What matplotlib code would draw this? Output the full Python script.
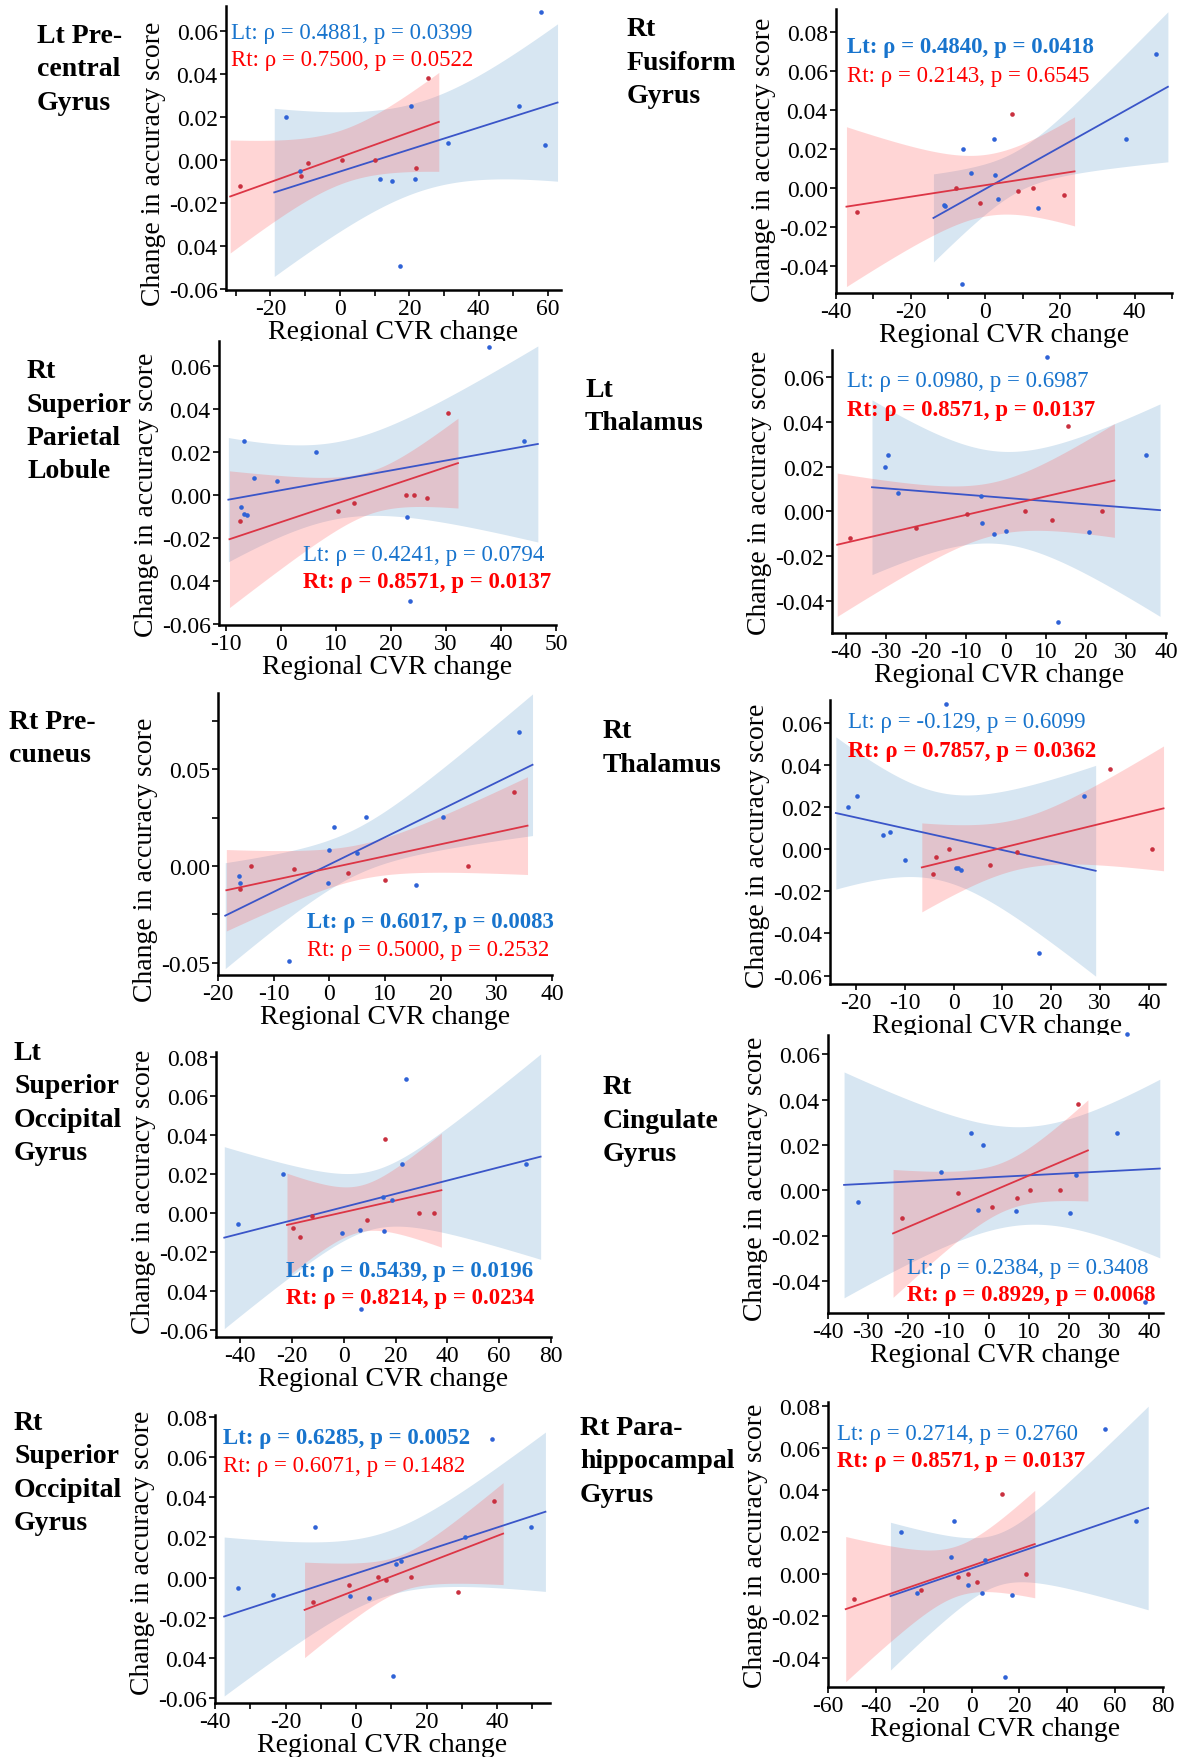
import numpy as np
import matplotlib
matplotlib.use("Agg")
import matplotlib.pyplot as plt

plt.rcParams["font.family"] = ["Liberation Serif", "DejaVu Serif"]
plt.rcParams["axes.unicode_minus"] = False

# change in accuracy score (same subjects in every panel)
lt_acc = [0.069, 0.0253, 0.0251, 0.020, 0.0081, 0.0068, -0.0053, -0.0088, -0.0090, -0.0100, -0.0492]
rt_acc = [-0.0120, -0.0074, -0.0013, 0.0002, 0.0002, -0.0036, 0.0382]

regions = [
    ["Lt Pre-", "central", "Gyrus"],
    ["Rt", "Fusiform", "Gyrus"],
    ["Rt", "Superior", "Parietal", "Lobule"],
    ["Lt", "Thalamus"],
    ["Rt Pre-", "cuneus"],
    ["Rt", "Thalamus"],
    ["Lt", "Superior", "Occipital", "Gyrus"],
    ["Rt", "Cingulate", "Gyrus"],
    ["Rt", "Superior", "Occipital", "Gyrus"],
    ["Rt Para-", "hippocampal", "Gyrus"],
]

# regional CVR change, ordered like lt_acc / rt_acc
lt_cvr_precentral = [57.9, 51.6, 20.5, -15.4, 31.1, 59.0, -11.6, 11.5, 21.5, 14.9, 17.2]
rt_cvr_precentral = [-28.9, -11.3, -9.1, 0.6, 10.0, 21.9, 25.5]
lt_cvr_fusiform = [45.8, 37.6, 2.2, -6.0, -3.8, 2.7, 3.4, -11.2, -10.8, 14.0, -6.3]
rt_cvr_fusiform = [-34.5, -1.3, 8.8, -7.8, 12.9, 21.1, 7.1]
lt_cvr_parietal = [37.8, 44.1, -6.6, 6.4, -4.8, -0.7, -7.2, -6.6, -6.1, 22.9, 23.5]
rt_cvr_parietal = [-7.4, 10.5, 26.5, 22.7, 24.2, 13.4, 30.3]
lt_cvr_lthal = [10.3, 35.1, -29.6, -30.3, -27.1, -6.2, -6.1, 0.0, 20.8, -3.0, 13.0]
rt_cvr_lthal = [-39.1, -22.4, -9.7, 4.7, 24.1, 11.5, 15.5]
lt_cvr_precuneus = [34.0, 6.5, 20.5, 0.9, -0.1, 4.9, -16.3, -16.0, -0.3, 15.6, -7.2]
rt_cvr_precuneus = [-16.1, 10.0, -6.4, -14.0, 24.9, 3.3, 33.2]
lt_cvr_rthal = [-1.5, 26.7, -19.7, -21.6, -13.0, -14.5, -10.0, 0.5, 0.9, 1.5, 17.5]
rt_cvr_rthal = [-4.3, 7.5, 13.0, -1.0, 40.6, -3.5, 32.0]
lt_cvr_ltocc = [24.0, 70.3, 22.4, -23.3, 15.0, 18.7, -40.7, 6.4, 15.7, -0.7, 6.7]
rt_cvr_ltocc = [-16.9, -19.6, -12.4, 29.1, 34.9, 8.9, 16.0]
lt_cvr_cingulate = [34.5, 31.9, -4.4, -1.4, -11.8, 21.8, -32.5, -2.6, 6.8, 20.3, 38.9]
rt_cvr_cingulate = [-21.7, 0.8, -7.6, 10.2, 17.7, 7.1, 22.3]
lt_cvr_rtocc = [38.6, 49.5, -11.7, 31.0, 12.7, 11.4, -33.5, -23.6, -1.6, 3.7, 10.6]
rt_cvr_rtocc = [-12.1, 29.0, 8.6, 6.3, 15.6, -2.1, 39.0]
lt_cvr_parahip = [55.8, 68.6, -7.4, -29.4, -8.8, 5.6, -1.3, -22.7, 4.5, 16.9, 13.8]
rt_cvr_parahip = [-49.0, -21.1, -5.6, -1.3, 22.8, 2.3, 12.9]

lt_cvr = [lt_cvr_precentral, lt_cvr_fusiform, lt_cvr_parietal, lt_cvr_lthal, lt_cvr_precuneus,
          lt_cvr_rthal, lt_cvr_ltocc, lt_cvr_cingulate, lt_cvr_rtocc, lt_cvr_parahip]
rt_cvr = [rt_cvr_precentral, rt_cvr_fusiform, rt_cvr_parietal, rt_cvr_lthal, rt_cvr_precuneus,
          rt_cvr_rthal, rt_cvr_ltocc, rt_cvr_cingulate, rt_cvr_rtocc, rt_cvr_parahip]

# spearman stats as printed
lt_rho = ["0.4881", "0.4840", "0.4241", "0.0980", "0.6017", "-0.129", "0.5439", "0.2384", "0.6285", "0.2714"]
lt_p = ["0.0399", "0.0418", "0.0794", "0.6987", "0.0083", "0.6099", "0.0196", "0.3408", "0.0052", "0.2760"]
rt_rho = ["0.7500", "0.2143", "0.8571", "0.8571", "0.5000", "0.7857", "0.8214", "0.8929", "0.6071", "0.8571"]
rt_p = ["0.0522", "0.6545", "0.0137", "0.0137", "0.2532", "0.0362", "0.0234", "0.0068", "0.1482", "0.0137"]
lt_bold = [False, True, False, False, True, False, True, False, True, False]
rt_bold = [False, False, True, True, False, True, True, True, False, True]

# fitted lines (x0, x1, y0, y1) and CI half widths (x_mid, w_left, w_mid, w_right)
lt_line = [(-18.9, 62.7, -0.0151, 0.0267), (-13.9, 48.9, -0.0152, 0.0521), (-9.5, 46.7, -0.0020, 0.0239),
           (-33.5, 38.5, 0.0108, 0.0006), (-18.7, 36.5, -0.0256, 0.0522), (-24.1, 29.1, 0.0171, -0.0103),
           (-46.1, 76.0, -0.0125, 0.0290), (-36.0, 42.6, 0.0024, 0.0096), (-37.4, 53.7, -0.0194, 0.0328),
           (-33.9, 73.8, -0.0105, 0.0315)]
lt_band = [(20, 0.0391, 0.021, 0.0366), (5, 0.0226, 0.011, 0.0385), (12, 0.0289, 0.018, 0.0456),
           (2, 0.0389, 0.021, 0.0473), (3, 0.0273, 0.012, 0.0365), (-1, 0.0361, 0.021, 0.050),
           (10, 0.0466, 0.015, 0.0526), (5, 0.0498, 0.022, 0.0394), (8, 0.0396, 0.016, 0.0397),
           (5, 0.0352, 0.013, 0.0485)]
rt_line = [(-31.6, 28.5, -0.0170, 0.0177), (-37.2, 23.9, -0.0094, 0.0087), (-9.3, 32.2, -0.0204, 0.0150),
           (-42.2, 27.1, -0.0148, 0.0138), (-18.5, 35.6, -0.0125, 0.0208), (-6.5, 43.0, -0.0087, 0.0193),
           (-21.9, 37.7, -0.0060, 0.0118), (-23.8, 24.7, -0.0190, 0.0176), (-14.6, 41.7, -0.0161, 0.0219),
           (-52.6, 26.4, -0.0167, 0.0143)]
rt_band = [(0, 0.0263, 0.0125, 0.023), (-2, 0.041, 0.016, 0.028), (15, 0.0318, 0.010, 0.0209),
           (0, 0.0319, 0.012, 0.0253), (6, 0.0210, 0.009, 0.0252), (12, 0.0211, 0.012, 0.0296),
           (8, 0.0265, 0.012, 0.0292), (2, 0.0282, 0.011, 0.0223), (12, 0.0238, 0.009, 0.0254),
           (-7, 0.0346, 0.012, 0.0256)]

W, H = 1192, 1758
y_std = ["-0.06", "-0.04", "-0.02", "0.00", "0.02", "0.04", "0.06"]
y_odd = ["-0.06", "0.04", "-0.02", "0.00", "0.02", "0.04", "0.06"]
y_std8 = ["-0.04", "-0.02", "0.00", "0.02", "0.04", "0.06", "0.08"]
y_odd8 = ["-0.06", "0.04", "-0.02", "0.00", "0.02", "0.04", "0.06", "0.08"]

# layout: axes box in px (l, t, r, b), limits, ticks, label origin, text spot, ylabel y
panels = [
    dict(box=(226, 7, 561, 291), xlim=(-32.8, 63.7), ylim=(-0.0605, 0.0716), ly=0.447,
         xt=(-30, 60, 10, 20), yt=(-0.06, 0.06, 0.02), yl=y_odd, lab=(37, 43), txt=(-31.4, 0.0594, 0.0466)),
    dict(box=(836, 10, 1172, 294), xlim=(-40, 50), ylim=(-0.0537, 0.092), ly=0.472,
         xt=(-40, 50, 10, 20), yt=(-0.04, 0.08, 0.02), yl=y_std8, lab=(627, 36), txt=(-37.1, 0.0726, 0.0581)),
    dict(box=(219, 342, 556, 626), xlim=(-11.2, 50), ylim=(-0.0603, 0.0718), ly=0.461,
         xt=(-10, 50, 10, 10), yt=(-0.06, 0.06, 0.02), yl=y_odd, lab=(27, 378), txt=(4.1, -0.0275, -0.0402)),
    dict(box=(832, 351, 1166, 634), xlim=(-43.5, 40), ylim=(-0.0541, 0.0719), ly=0.5,
         xt=(-40, 40, 10, 10), yt=(-0.04, 0.06, 0.02), yl=y_std[1:], lab=(585, 397), txt=(-39.7, 0.0582, 0.0456)),
    dict(box=(218, 694, 552, 976), xlim=(-20, 40), ylim=(-0.0562, 0.0892), ly=0.412,
         xt=(-20, 40, 10, 10), yt=(-0.05, 0.075, 0.025), yl=["-0.05", "", "0.00", "", "0.05", ""],
         lab=(9, 729), txt=(-4.05, -0.0287, -0.0431)),
    dict(box=(830, 701, 1165, 985), xlim=(-25.3, 43.3), ylim=(-0.064, 0.0707), ly=0.49,
         xt=(-20, 40, 10, 10), yt=(-0.06, 0.06, 0.02), yl=y_std, lab=(603, 738), txt=(-21.6, 0.0603, 0.0469)),
    dict(box=(216, 1053, 551, 1338), xlim=(-49.3, 80), ylim=(-0.0634, 0.0826), ly=0.512,
         xt=(-40, 80, 20, 20), yt=(-0.06, 0.08, 0.02), yl=y_odd8, lab=(14, 1060), txt=(-22.3, -0.0292, -0.0434)),
    dict(box=(828, 1036, 1163, 1314), xlim=(-40, 43.4), ylim=(-0.0541, 0.0685), ly=0.485,
         xt=(-40, 40, 10, 10), yt=(-0.04, 0.06, 0.02), yl=y_std[1:], lab=(603, 1094), txt=(-20.4, -0.034, -0.046)),
    dict(box=(215, 1416, 550, 1704), xlim=(-40, 55), ylim=(-0.0625, 0.081), ly=0.524,
         xt=(-40, 50, 10, 20), yt=(-0.06, 0.08, 0.02), yl=y_odd8, lab=(14, 1430), txt=(-37.8, 0.070, 0.056)),
    dict(box=(828, 1403, 1163, 1688), xlim=(-60, 80), ylim=(-0.0538, 0.082), ly=0.5,
         xt=(-60, 80, 20, 20), yt=(-0.04, 0.08, 0.02), yl=y_std8, lab=(580, 1435), txt=(-56.3, 0.0671, 0.054)),
]

BLUE_PT, RED_PT = "#2f62d6", "#c9303f"
BLUE_LN, RED_LN = "#3a55c8", "#dc3545"
BLUE_TXT, RED_TXT = "#1874cd", "#ff0000"


def draw_band(ax, line, bw, fill, alpha):
    x0, x1, y0, y1 = line
    xm, wl, wm, wr = bw
    xs = np.linspace(x0, x1, 120)
    ys = np.interp(xs, [x0, x1], [y0, y1])
    c = np.polyfit([x0, xm, x1], np.square([wl, wm, wr]), 2)
    w = np.sqrt(np.clip(np.polyval(c, xs), 0, None))
    ax.fill_between(xs, ys - w, ys + w, color=fill, alpha=alpha, lw=0)


fig = plt.figure(figsize=(W / 100, H / 100), dpi=100)

for i, p in enumerate(panels):
    l, t, r, b = p["box"]
    ax = fig.add_axes([l / W, 1 - b / H, (r - l) / W, (b - t) / H])

    draw_band(ax, lt_line[i], lt_band[i], "#d7e6f2", 1.0)
    draw_band(ax, rt_line[i], rt_band[i], "#ff5b5b", 0.25)
    x0, x1, y0, y1 = lt_line[i]
    ax.plot([x0, x1], [y0, y1], color=BLUE_LN, lw=1.3)
    x0, x1, y0, y1 = rt_line[i]
    ax.plot([x0, x1], [y0, y1], color=RED_LN, lw=1.3)
    ax.scatter(lt_cvr[i], lt_acc, s=11, color=BLUE_PT, lw=0, zorder=3, clip_on=False)
    ax.scatter(rt_cvr[i], rt_acc, s=11, color=RED_PT, lw=0, zorder=3, clip_on=False)

    ax.set_xlim(*p["xlim"])
    ax.set_ylim(*p["ylim"])
    a, z, st, ls = p["xt"]
    xt = np.arange(a, z + 1, st)
    ax.set_xticks(xt)
    ax.set_xticklabels([str(v) if v % ls == 0 else "" for v in xt])
    ya, yz, ys = p["yt"]
    ax.set_yticks(np.arange(ya, yz + ys / 2, ys))
    ax.set_yticklabels(p["yl"])
    ax.tick_params(labelsize=17, length=4, width=1.2, pad=2)
    for s in ["top", "right"]:
        ax.spines[s].set_visible(False)
    for s in ["left", "bottom"]:
        ax.spines[s].set_linewidth(1.8)
    ax.set_xlabel("Regional CVR change", fontsize=20, labelpad=0)
    ax.set_ylabel("Change in accuracy score", fontsize=20, labelpad=2)
    ax.yaxis.label.set_y(p["ly"])

    tx, ty1, ty2 = p["txt"]
    ax.text(tx, ty1, f"Lt: \u03c1 = {lt_rho[i]}, p = {lt_p[i]}", color=BLUE_TXT, fontsize=16.5,
            fontweight="bold" if lt_bold[i] else "normal", va="center", ha="left", zorder=5)
    ax.text(tx, ty2, f"Rt: \u03c1 = {rt_rho[i]}, p = {rt_p[i]}", color=RED_TXT, fontsize=16.5,
            fontweight="bold" if rt_bold[i] else "normal", va="center", ha="left", zorder=5)

    lx0, ly0 = p["lab"]
    for k, line in enumerate(regions[i]):
        fig.text(lx0 / W, 1 - (ly0 + k * 33.5) / H, line, fontsize=20, fontweight="bold",
                 ha="left", va="baseline")

fig.savefig("out.png", dpi=100)
